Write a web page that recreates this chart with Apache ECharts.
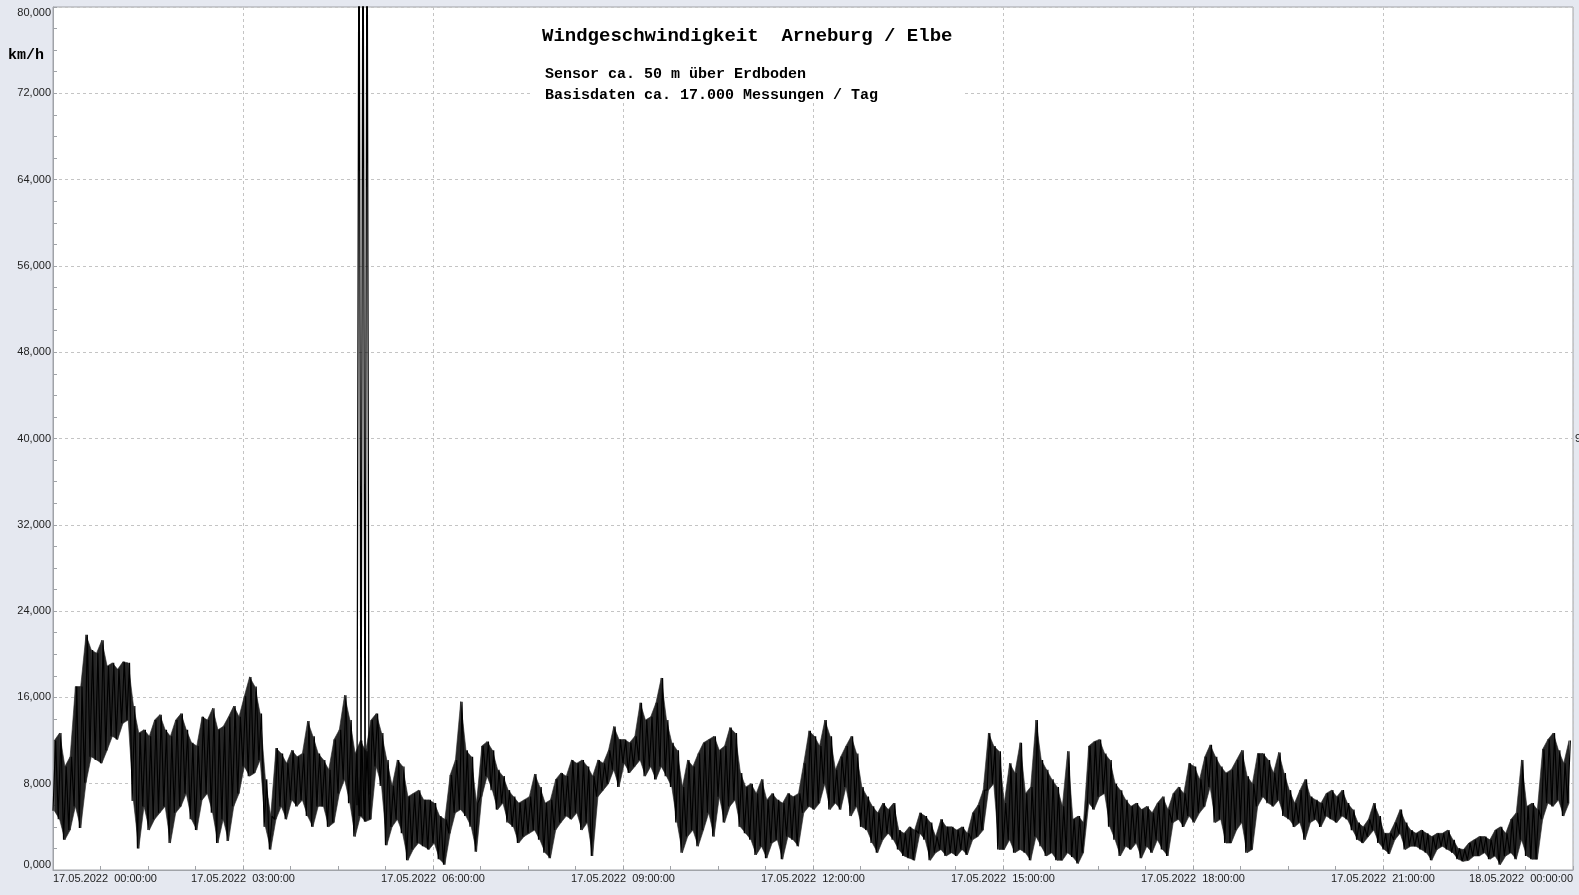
<!DOCTYPE html>
<html>
<head>
<meta charset="utf-8">
<script src="https://cdn.jsdelivr.net/npm/echarts@6/dist/echarts.min.js"></script>
<style>
  html, body { margin: 0; padding: 0; background: #e5e8f0; }
  #chart { width: 1579px; height: 895px; }
</style>
</head>
<body>
<div id="chart"></div>
<script>
// Wind speed in km/h: low/high pairs per 5-minute slot
const speed00to06 = [
  5.5,12.0, 4.7,12.7, 2.8,9.6, 3.7,10.5, 5.9,17.0, 3.9,17.0, 8.1,21.8, 10.5,20.4, 10.2,20.1,
  9.9,21.3, 11.1,18.9, 12.4,19.2, 12.1,18.6, 13.6,19.3, 13.9,19.2, 6.4,15.2, 2.0,12.7, 5.9,13.0,
  3.7,12.4, 4.7,13.9, 5.3,14.4, 5.9,13.0, 2.5,12.4, 5.3,13.9, 5.9,14.5, 7.1,13.0, 4.7,11.8,
  3.7,11.5, 6.5,14.2, 7.1,13.9, 5.3,15.0, 2.5,13.0, 4.7,13.3, 2.7,14.2, 5.9,15.2, 7.1,14.2,
  9.6,16.1, 8.7,17.9, 9.0,17.0, 10.2,14.5, 4.0,8.4, 1.9,5.0, 4.7,11.3, 5.9,10.8, 4.7,9.9,
  6.5,11.1, 5.9,10.5, 6.5,10.8, 5.0,13.8, 4.0,12.4, 5.9,10.8, 5.9,10.2, 4.0,9.3, 4.4,12.1,
  7.1,13.0, 8.4,16.2, 6.2,13.9, 3.1,10.8, 5.0,12.0, 4.5,11.0, 4.7,13.9, 9.6,14.5, 7.8,12.7,
  2.3,10.2, 4.0,7.8, 4.7,10.2, 3.4,9.6, 0.9,6.8, 1.9,7.1, 2.5,7.4, 2.2,6.5, 1.9,6.5
];
const speed06to12 = [
  2.5,6.2, 1.0,5.0, 0.5,4.7, 3.4,8.8, 5.3,10.2, 5.6,15.6, 5.0,11.1, 4.0,10.5, 1.7,6.2,
  6.8,11.5, 8.7,11.9, 7.4,11.1, 5.6,9.3, 6.2,8.7, 4.4,7.4, 4.0,6.8, 2.5,6.2, 3.1,6.5,
  3.4,6.8, 3.7,8.9, 2.8,7.7, 1.6,6.2, 1.1,6.5, 3.7,8.4, 4.4,9.0, 5.0,8.7, 4.7,10.2,
  5.3,9.9, 3.7,10.2, 4.4,9.6, 1.3,8.7, 6.8,10.2, 7.4,9.9, 8.0,11.1, 9.3,13.3, 7.7,12.1,
  9.9,12.1, 9.0,11.8, 9.6,12.4, 10.2,15.5, 8.7,13.9, 9.6,14.2, 8.4,15.5, 9.6,17.8, 8.7,13.9,
  7.7,11.8, 4.4,11.1, 1.6,7.7, 3.1,10.2, 3.7,9.6, 2.2,10.8, 3.7,11.8, 5.3,12.1, 3.1,12.4,
  6.8,11.1, 4.4,11.5, 5.9,13.2, 6.5,12.7, 4.0,9.0, 3.4,7.7, 2.8,8.0, 1.4,7.1, 2.2,8.4,
  1.1,6.5, 2.5,7.1, 2.8,6.5, 1.0,6.2, 3.1,7.1, 2.8,6.8, 2.2,7.1, 5.3,9.9, 5.9,12.9
];
const speed12to18 = [
  5.6,12.4, 6.2,11.5, 8.0,13.9, 5.6,12.4, 6.2,9.3, 5.6,10.5, 7.7,11.5, 5.0,12.4, 5.9,10.8,
  4.0,7.7, 3.7,6.8, 2.5,5.9, 1.6,5.3, 2.8,6.2, 3.4,5.6, 2.8,6.2, 1.9,3.7, 1.3,3.4,
  1.1,4.0, 0.9,3.7, 3.4,5.3, 2.8,5.0, 0.9,4.4, 1.6,3.1, 1.9,4.7, 1.3,4.0, 1.6,4.0,
  1.3,3.7, 1.9,4.0, 1.4,3.4, 2.8,5.3, 3.1,6.0, 3.7,7.4, 7.4,12.7, 8.0,11.5, 1.9,11.0,
  1.9,6.2, 2.8,9.9, 1.6,9.0, 1.9,11.8, 1.6,7.1, 0.9,7.7, 3.1,13.9, 2.2,10.2, 1.3,9.3,
  1.6,8.4, 0.9,7.7, 0.9,5.9, 1.6,11.0, 1.2,4.7, 0.6,5.0, 1.6,4.4, 6.2,11.5, 5.6,11.9,
  6.8,12.1, 7.1,10.8, 4.0,10.2, 2.8,8.0, 1.3,7.4, 2.2,6.5, 1.9,5.9, 2.5,6.2, 1.1,5.6,
  2.2,5.9, 1.6,5.3, 2.8,6.2, 1.9,6.8, 1.3,5.6, 4.4,7.1, 4.7,7.7, 4.0,7.1, 5.0,9.9
];
const speed18to24 = [
  4.4,9.6, 5.3,8.4, 5.9,10.5, 7.7,11.6, 4.4,10.5, 4.7,9.6, 2.5,9.0, 2.5,9.3, 3.7,10.2,
  4.4,11.1, 1.6,8.7, 1.9,8.0, 5.9,10.8, 6.8,10.8, 6.2,10.2, 5.9,9.0, 6.5,10.9, 5.0,9.0,
  4.7,7.4, 4.0,6.2, 4.4,7.4, 2.8,8.4, 4.4,6.8, 4.7,6.5, 4.0,6.2, 5.0,7.1, 4.7,7.4,
  4.4,6.8, 5.0,7.4, 4.7,6.2, 3.7,5.6, 2.8,4.4, 2.5,4.0, 3.1,4.7, 3.7,6.2, 2.5,5.0,
  1.9,3.4, 1.5,3.4, 2.8,4.4, 3.4,5.6, 1.9,4.4, 2.2,3.7, 2.2,3.4, 1.9,3.7, 1.6,3.4,
  0.9,3.1, 1.9,3.4, 2.2,3.4, 1.9,3.7, 1.6,2.8, 1.0,2.0, 0.8,1.9, 0.9,2.5, 1.3,2.8,
  1.3,3.1, 1.6,3.1, 1.0,2.8, 1.3,3.7, 0.5,4.0, 1.3,3.4, 1.6,4.7, 1.0,5.3, 2.8,10.2,
  1.3,5.9, 1.0,6.2, 1.0,5.6, 4.7,11.2, 6.2,12.1, 5.9,12.7, 6.5,11.1, 5.0,9.9, 6.2,12.0
];
const sampleMinutes = 2.5;

// the sensor glitch just before 05:00 (values beyond the top of the scale)
const spikeMinutes = [288.0, 289.9, 291.8, 293.7, 295.6, 297.5, 299.4];
const spikeValues  = [6.0, 95, 5.0, 95, 4.5, 95, 7.0];

const xTickLabels = [
  '17.05.2022  00:00:00', '17.05.2022  03:00:00', '17.05.2022  06:00:00',
  '17.05.2022  09:00:00', '17.05.2022  12:00:00', '17.05.2022  15:00:00',
  '17.05.2022  18:00:00', '17.05.2022  21:00:00', '18.05.2022  00:00:00'
];
const titleText = 'Windgeschwindigkeit  Arneburg / Elbe';
const subLine1 = 'Sensor ca. 50 m über Erdboden';
const subLine2 = 'Basisdaten ca. 17.000 Messungen / Tag';
const unitText = 'km/h';

const speedAll = [].concat(speed00to06, speed06to12, speed12to18, speed18to24);
const lineData = speedAll.map((v, i) => [i * sampleMinutes, v]);
// min/max band per slot, as quads between neighbouring slots
const slots = [];
for (let k = 0; k < speedAll.length / 2; k++) {
  const a = speedAll[2 * k], b = speedAll[2 * k + 1];
  slots.push([(2 * k + 0.5) * sampleMinutes, Math.min(a, b), Math.max(a, b)]);
}
const bandData = [];
for (let k = 0; k < slots.length - 1; k++) {
  bandData.push([slots[k][0], slots[k][1], slots[k][2], slots[k + 1][0], slots[k + 1][1], slots[k + 1][2]]);
}
const spikeData = spikeMinutes.map((t, i) => [t, spikeValues[i]]);

const chart = echarts.init(document.getElementById('chart'), null, { renderer: 'canvas' });
const mono = "'Liberation Mono', 'Courier New', monospace";
const sans = "'Liberation Sans', Arial, sans-serif";

chart.setOption({
  animation: false,
  backgroundColor: '#e5e8f0',
  grid: {
    left: 53, right: 6, top: 7, bottom: 25,
    show: true, backgroundColor: '#ffffff', borderColor: '#a0a3a8', borderWidth: 1
  },
  xAxis: {
    type: 'value', min: 0, max: 1440, interval: 180,
    axisLine: { show: true, lineStyle: { color: '#a0a3a8' } },
    axisTick: { show: true, inside: true, length: 4, lineStyle: { color: '#a0a3a8' } },
    minorTick: { show: true, splitNumber: 4, length: 4, lineStyle: { color: '#a0a3a8' } },
    splitLine: { show: true, lineStyle: { color: '#c4c4c4', type: [3, 3], width: 1 } },
    axisLabel: {
      margin: 3, fontSize: 11, fontFamily: sans, color: '#222',
      showMinLabel: true, showMaxLabel: true,
      alignMinLabel: 'left', alignMaxLabel: 'right',
      formatter: v => xTickLabels[Math.round(v / 180)] || ''
    }
  },
  yAxis: {
    type: 'value', min: 0, max: 80, interval: 8,
    axisLine: { show: true, lineStyle: { color: '#a0a3a8' } },
    axisTick: { show: true, inside: true, length: 4, lineStyle: { color: '#a0a3a8' } },
    minorTick: { show: true, splitNumber: 4, length: 4, lineStyle: { color: '#a0a3a8' } },
    splitLine: { show: true, lineStyle: { color: '#c4c4c4', type: [3, 3], width: 1 } },
    axisLabel: {
      margin: 2, fontSize: 11, fontFamily: sans, color: '#222',
      showMinLabel: true, showMaxLabel: true,
      verticalAlignMinLabel: 'bottom', verticalAlignMaxLabel: 'top',
      formatter: v => v.toFixed(3).replace('.', ',')
    }
  },
  series: [
    {
      type: 'custom', data: bandData, silent: true, z: 2,
      encode: { x: [0, 3], y: [1, 2, 4, 5] },
      renderItem: (params, api) => {
        const p0l = api.coord([api.value(0), api.value(1)]);
        const p0h = api.coord([api.value(0), api.value(2)]);
        const p1l = api.coord([api.value(3), api.value(4)]);
        const p1h = api.coord([api.value(3), api.value(5)]);
        return {
          type: 'polygon',
          shape: { points: [p0l, p1l, p1h, p0h] },
          style: { fill: '#262626', stroke: '#262626', lineWidth: 0.6 }
        };
      }
    },
    {
      type: 'line', data: lineData, showSymbol: false, symbol: 'none', clip: true,
      lineStyle: { color: '#000000', width: 1.2 }, z: 3
    },
    {
      type: 'line', data: spikeData, showSymbol: false, symbol: 'none', clip: true,
      lineStyle: { color: '#000000', width: 1.3 }, z: 3
    }
  ],
  graphic: [
    { type: 'rect', z: 50, shape: { x: 532, y: 8, width: 430, height: 95 }, style: { fill: '#ffffff' } },
    { type: 'text', z: 60, x: 542, y: 36, style: { text: titleText, font: 'bold 19px ' + mono, fill: '#000', verticalAlign: 'middle' } },
    { type: 'text', z: 60, x: 545, y: 74, style: { text: subLine1, font: 'bold 15px ' + mono, fill: '#000', verticalAlign: 'middle' } },
    { type: 'text', z: 60, x: 545, y: 95, style: { text: subLine2, font: 'bold 15px ' + mono, fill: '#000', verticalAlign: 'middle' } },
    { type: 'text', z: 60, x: 8, y: 55, style: { text: unitText, font: 'bold 15px ' + mono, fill: '#000', verticalAlign: 'middle' } },
    { type: 'text', z: 60, x: 1575, y: 439, style: { text: '9', font: '11px ' + sans, fill: '#222', verticalAlign: 'middle' } }
  ]
});
</script>
</body>
</html>
